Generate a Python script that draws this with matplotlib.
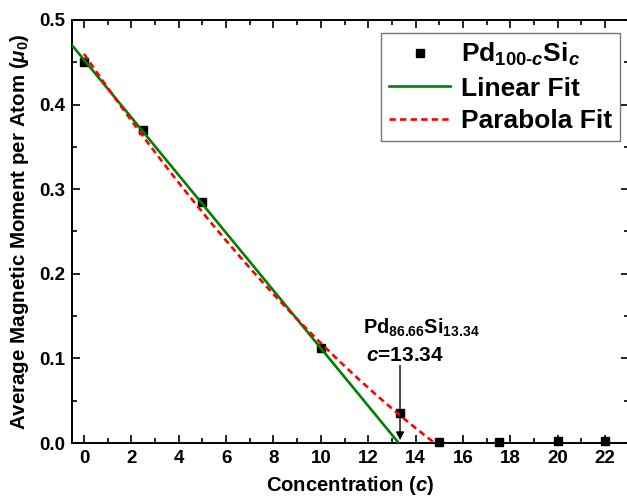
import numpy as np
import matplotlib
matplotlib.use("Agg")
import matplotlib.pyplot as plt
from matplotlib.ticker import MultipleLocator

plt.rcParams['font.family'] = ['Liberation Sans', 'DejaVu Sans']
plt.rcParams['mathtext.fontset'] = 'custom'
plt.rcParams['mathtext.rm'] = 'Liberation Sans:bold'
plt.rcParams['mathtext.it'] = 'Liberation Sans:bold:italic'
plt.rcParams['mathtext.bf'] = 'Liberation Sans:bold'

# Data
conc = [0, 2.5, 5, 10, 13.34, 15, 17.5, 20, 22]
moment = [0.450, 0.370, 0.285, 0.112, 0.035, 0.001, 0.001, 0.002, 0.002]
# Fit coefficients (highest power first)
linear_coef = [-0.0341, 0.453]
linear_range = [-0.5, 13.28]
parab_coef = [0.00065, -0.0407, 0.46]
parab_range = [0.0, 14.8]

fig = plt.figure(figsize=(6.27, 5.0), dpi=100)
ax = fig.add_axes([0.115, 0.114, 0.888, 0.846])

xl = np.linspace(linear_range[0], linear_range[1], 100)
ax.plot(xl, np.polyval(linear_coef, xl), color='#008000', lw=1.9, label='Linear Fit', zorder=3)
xp = np.linspace(parab_range[0], parab_range[1], 200)
ax.plot(xp, np.polyval(parab_coef, xp), color='#ff0000', lw=1.9, ls=(0, (2.4, 1.6)), label='Parabola Fit', zorder=4)
ax.plot(conc, moment, ls='none', marker='s', ms=5.8, mfc='black', mec='black',
        label=r'Pd$_{100\text{-}c}$Si$_{c}$', zorder=2, clip_on=False)

# reorder legend: data first
h, l = ax.get_legend_handles_labels()
order = [2, 0, 1]
leg = ax.legend([h[i] for i in order], [l[i] for i in order], loc='upper right',
                bbox_to_anchor=(0.993, 0.982), fancybox=False, edgecolor='#555555',
                prop={'weight': 'bold', 'size': 19}, handlelength=2.3,
                borderpad=0.3, labelspacing=0.33, handletextpad=0.4, borderaxespad=0.2)
leg.get_frame().set_linewidth(1.0)

ax.annotate('', xy=(13.34, 0.0), xytext=(13.34, 0.095),
            arrowprops=dict(arrowstyle='-|>', color='black', lw=1.0, mutation_scale=12))
ax.text(14.25, 0.136, r'Pd$_{86.66}$Si$_{13.34}$', ha='center', va='center', fontsize=14.3, fontweight='bold')
ax.text(13.55, 0.104, r'$c$=13.34', ha='center', va='center', fontsize=15, fontweight='bold')

ax.set_xlim(-0.5, 23)
ax.set_ylim(0, 0.5)
ax.xaxis.set_major_locator(MultipleLocator(2))
ax.xaxis.set_minor_locator(MultipleLocator(1))
ax.yaxis.set_major_locator(MultipleLocator(0.1))
ax.yaxis.set_minor_locator(MultipleLocator(0.05))
ax.tick_params(which='both', direction='in', top=True, right=True, width=1.2)
ax.tick_params(which='major', length=6, labelsize=13.5, pad=5)
ax.tick_params(which='minor', length=3.5)
for lab in ax.get_xticklabels() + ax.get_yticklabels():
    lab.set_fontweight('bold')
for s in ax.spines.values():
    s.set_linewidth(1.4)

ax.set_xlabel(r'Concentration ($c$)', fontsize=14.6, fontweight='bold', labelpad=5)
ax.set_ylabel(r'Average Magnetic Moment per Atom ($\mu_0$)', fontsize=14.8, fontweight='bold', labelpad=6)

fig.savefig('out.png', dpi=100)
